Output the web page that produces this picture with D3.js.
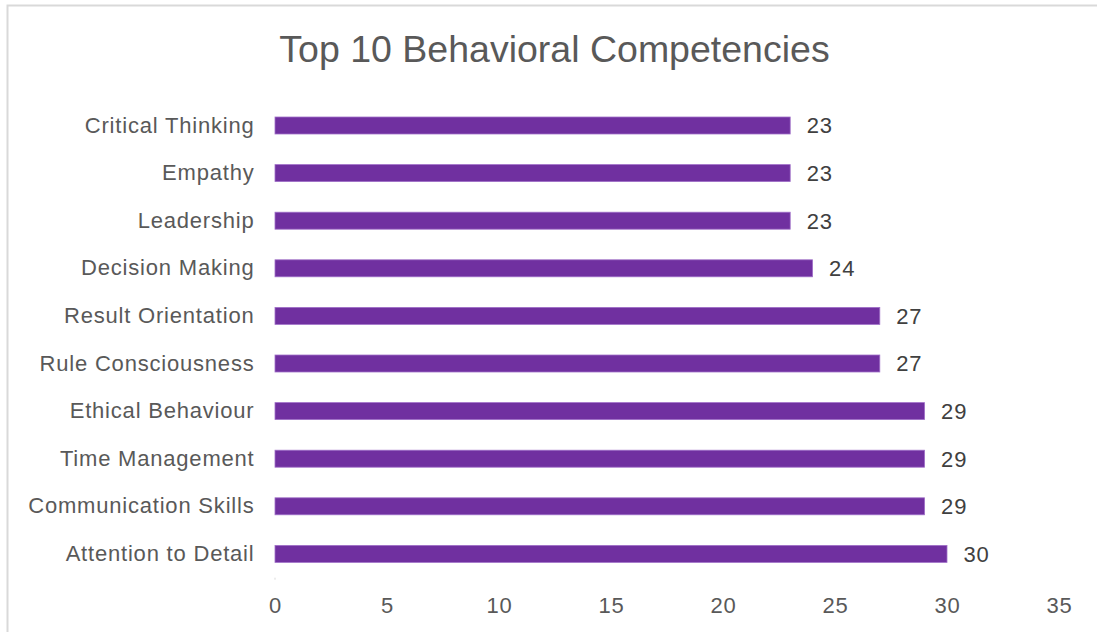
<!doctype html>
<html>
  <head>
    <style>
      body { margin: 0; background: #fff; }
      text { font-family: 'Liberation Sans', Arial, sans-serif; }
    </style>
  </head>
  <body>
    <svg id='chart0'></svg>

    <script src='https://d3js.org/d3.v7.min.js'></script>
    <script>
      // categories listed top to bottom, as in the picture
      const categories = ['Critical Thinking', 'Empathy', 'Leadership', 'Decision Making',
                          'Result Orientation', 'Rule Consciousness', 'Ethical Behaviour',
                          'Time Management', 'Communication Skills', 'Attention to Detail'];
      const counts = [23, 23, 23, 24, 27, 27, 29, 29, 29, 30];
      const x_ticks = [0, 5, 10, 15, 20, 25, 30, 35];
      const title = 'Top 10 Behavioral Competencies';

      const width = 1097;
      const height = 632;
      const margin = ({top: 101.7, right: 38, bottom: 54.3, left: 275});

      const svg = d3.select('svg#chart0')
                    .attr('width', width)
                    .attr('height', height);

      // light frame round the chart area
      svg.append('rect')
         .attr('x', 7.5)
         .attr('y', 5.5)
         .attr('width', width + 10)
         .attr('height', height + 10)
         .attr('fill', 'none')
         .attr('stroke', '#d9d9d9')
         .attr('stroke-width', 2);

      const x = d3.scaleLinear()
                  .domain([0, 35])
                  .range([margin.left, width - margin.right]);
      const y = d3.scaleBand()
                  .domain(categories)
                  .range([margin.top, height - margin.bottom])
                  .paddingInner(0.643)
                  .paddingOuter(0.3215);

      const data = categories.map((c, i) => ({name: c, value: counts[i]}));

      svg.append('text')
         .attr('x', 554.5)
         .attr('y', 62)
         .attr('text-anchor', 'middle')
         .attr('font-size', 37.5)
         .attr('fill', '#595959')
         .text(title);

      svg.selectAll('rect.bar')
         .data(data)
         .join('rect')
         .attr('class', 'bar')
         .attr('x', x(0))
         .attr('y', d => y(d.name))
         .attr('width', d => x(d.value) - x(0))
         .attr('height', y.bandwidth())
         .attr('fill', '#7030a0')
         .attr('stroke', '#a070c8')
         .attr('stroke-width', 0.8);

      svg.selectAll('text.value')
         .data(data)
         .join('text')
         .attr('class', 'value')
         .attr('x', d => x(d.value) + 16.5)
         .attr('y', d => y(d.name) + y.bandwidth() / 2)
         .attr('dy', '0.36em')
         .attr('font-size', 22)
         .attr('letter-spacing', 0.8)
         .attr('fill', '#404040')
         .text(d => d.value);

      // category axis, no line or ticks
      const y_axis = svg.append('g')
         .attr('transform', `translate(${margin.left},0)`)
         .call(d3.axisLeft(y).tickSize(0).tickPadding(20.5));
      y_axis.select('.domain').remove();
      y_axis.selectAll('.tick text')
         .attr('font-size', 22)
         .attr('letter-spacing', 0.8)
         .attr('fill', '#595959')
         .attr('font-family', null);

      const x_axis = svg.append('g')
         .attr('transform', `translate(0,${height - margin.bottom})`)
         .call(d3.axisBottom(x).tickValues(x_ticks).tickSize(0).tickPadding(20));
      x_axis.select('.domain').remove();
      x_axis.selectAll('.tick text')
         .attr('font-size', 22)
         .attr('letter-spacing', 0.8)
         .attr('fill', '#595959')
         .attr('font-family', null);

      // tiny faint mark at the origin, as in the original
      svg.append('line')
         .attr('x1', x(0)).attr('x2', x(0))
         .attr('y1', height - margin.bottom)
         .attr('y2', height - margin.bottom + 2)
         .attr('stroke', '#d9d9d9');
    </script>
  </body>
</html>
